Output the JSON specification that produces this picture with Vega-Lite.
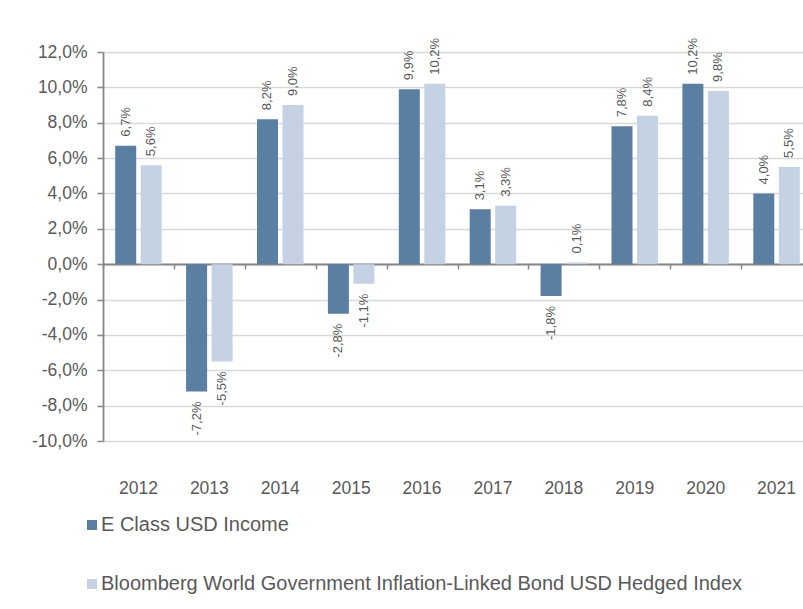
{
  "$schema": "https://vega.github.io/schema/vega-lite/v6.json",
  "autosize": {"type": "none"},
  "padding": {"left": 103, "top": 52, "right": 0, "bottom": 168},
  "width": 700,
  "height": 389,
  "background": "white",
  "config": {
    "locale": {"number": {"decimal": ",", "thousands": ".", "grouping": [3], "currency": ["", "%"], "minus": "-"}},
    "font": "Liberation Sans",
    "view": {"stroke": null},
    "axisY": {
      "labelFont": "Liberation Sans",
      "labelFontSize": 17.5,
      "labelColor": "#595959",
      "labelPadding": 10,
      "labelOverlap": false,
      "labelBound": false,
      "labelFlush": false,
      "tickCount": 30,
      "tickSize": 6,
      "tickColor": "#868686",
      "tickWidth": 1.5,
      "domainColor": "#868686",
      "domainWidth": 1.8,
      "gridColor": "#d9d9d9",
      "gridWidth": 1.5,
      "title": null
    }
  },
  "data": {"values": [
    {"year": "2012", "series": "E Class USD Income", "value": 0.067},
    {"year": "2012", "series": "Bloomberg World Government Inflation-Linked Bond USD Hedged Index", "value": 0.056},
    {"year": "2013", "series": "E Class USD Income", "value": -0.072},
    {"year": "2013", "series": "Bloomberg World Government Inflation-Linked Bond USD Hedged Index", "value": -0.055},
    {"year": "2014", "series": "E Class USD Income", "value": 0.082},
    {"year": "2014", "series": "Bloomberg World Government Inflation-Linked Bond USD Hedged Index", "value": 0.090},
    {"year": "2015", "series": "E Class USD Income", "value": -0.028},
    {"year": "2015", "series": "Bloomberg World Government Inflation-Linked Bond USD Hedged Index", "value": -0.011},
    {"year": "2016", "series": "E Class USD Income", "value": 0.099},
    {"year": "2016", "series": "Bloomberg World Government Inflation-Linked Bond USD Hedged Index", "value": 0.102},
    {"year": "2017", "series": "E Class USD Income", "value": 0.031},
    {"year": "2017", "series": "Bloomberg World Government Inflation-Linked Bond USD Hedged Index", "value": 0.033},
    {"year": "2018", "series": "E Class USD Income", "value": -0.018},
    {"year": "2018", "series": "Bloomberg World Government Inflation-Linked Bond USD Hedged Index", "value": 0.001},
    {"year": "2019", "series": "E Class USD Income", "value": 0.078},
    {"year": "2019", "series": "Bloomberg World Government Inflation-Linked Bond USD Hedged Index", "value": 0.084},
    {"year": "2020", "series": "E Class USD Income", "value": 0.102},
    {"year": "2020", "series": "Bloomberg World Government Inflation-Linked Bond USD Hedged Index", "value": 0.098},
    {"year": "2021", "series": "E Class USD Income", "value": 0.040},
    {"year": "2021", "series": "Bloomberg World Government Inflation-Linked Bond USD Hedged Index", "value": 0.055}
  ]},
  "resolve": {"axis": {"x": "independent"}},
  "layer": [
    {
      "mark": {"type": "bar"},
      "encoding": {
        "x": {
          "field": "year", "type": "nominal", "sort": null,
          "scale": {"paddingInner": 0, "paddingOuter": 0, "range": [0, 709]},
          "axis": {"orient": "bottom", "offset": -177, "labels": false, "ticks": true, "tickBand": "extent", "tickSize": 5, "tickColor": "#868686", "tickWidth": 1.5, "domain": true, "domainColor": "#868686", "domainWidth": 1.8, "grid": false, "title": null}
        },
        "xOffset": {
          "field": "series", "type": "nominal",
          "scale": {"domain": ["E Class USD Income", "Bloomberg World Government Inflation-Linked Bond USD Hedged Index"], "paddingInner": 0.176, "paddingOuter": 0.478}
        },
        "y": {
          "field": "value", "type": "quantitative",
          "scale": {"domain": [-0.1, 0.12], "nice": false, "zero": false},
          "axis": {"values": [-0.1, -0.08, -0.06, -0.04, -0.02, 0, 0.02, 0.04, 0.06, 0.08, 0.1, 0.12], "tickCount": 30, "labelOverlap": false, "format": ".1%", "grid": true, "title": null}
        },
        "color": {
          "field": "series", "type": "nominal",
          "scale": {"domain": ["E Class USD Income", "Bloomberg World Government Inflation-Linked Bond USD Hedged Index"], "range": ["#5b7fa3", "#c5d2e3"]},
          "legend": {
            "orient": "none", "legendX": -21, "legendY": 463, "direction": "vertical", "title": null,
            "symbolType": "square", "symbolSize": 100, "symbolStrokeWidth": 0,
            "labelFont": "Liberation Sans", "labelFontSize": 20, "labelColor": "#595959", "labelOffset": -1,
            "rowPadding": 39, "padding": 0, "labelLimit": 800
          }
        }
      }
    },
    {
      "transform": [{"filter": "datum.value >= 0"}],
      "mark": {"type": "text", "angle": 270, "align": "left", "baseline": "middle", "dx": 9, "font": "Liberation Sans", "fontSize": 13, "color": "#595959"},
      "encoding": {
        "x": {
          "field": "year", "type": "nominal", "sort": null,
          "axis": {"orient": "bottom", "labels": true, "ticks": false, "domain": false, "grid": false, "title": null, "labelPadding": 38, "labelFont": "Liberation Sans", "labelFontSize": 17.5, "labelColor": "#595959", "labelAngle": 0}
        },
        "xOffset": {"field": "series", "type": "nominal"},
        "y": {"field": "value", "type": "quantitative"},
        "text": {"field": "value", "type": "quantitative", "format": ".1%"}
      }
    },
    {
      "transform": [{"filter": "datum.value < 0"}],
      "mark": {"type": "text", "angle": 270, "align": "right", "baseline": "middle", "dx": -10, "font": "Liberation Sans", "fontSize": 13, "color": "#595959"},
      "encoding": {
        "x": {"field": "year", "type": "nominal", "sort": null, "axis": null},
        "xOffset": {"field": "series", "type": "nominal"},
        "y": {"field": "value", "type": "quantitative"},
        "text": {"field": "value", "type": "quantitative", "format": ".1%"}
      }
    }
  ]
}
